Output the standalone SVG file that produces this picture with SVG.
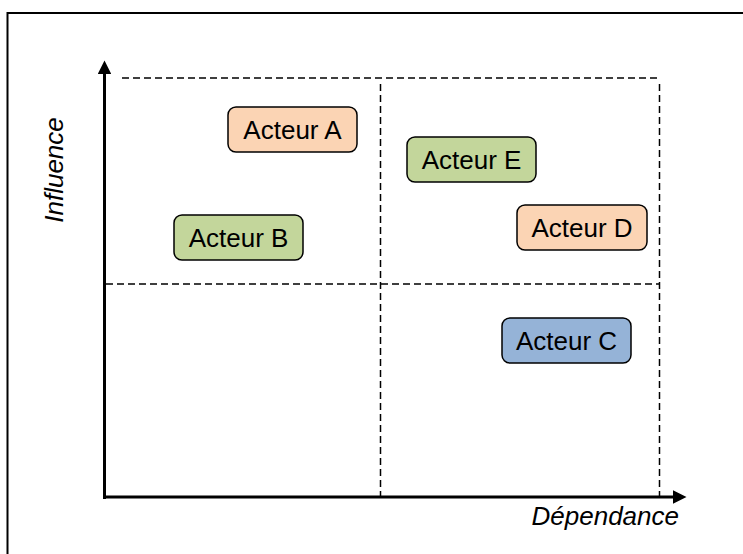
<svg xmlns="http://www.w3.org/2000/svg" width="743" height="554" viewBox="0 0 743 554">
<defs>
<style>
.frame{fill:none;stroke:#000;stroke-width:2}
.dash{fill:none;stroke:#000;stroke-width:1.5;stroke-dasharray:7 4}
.axis{fill:none;stroke:#000;stroke-width:3}
.box{stroke:#000;stroke-width:1.5}
.orange{fill:#FBD4B4}
.green{fill:#C3D69B}
.blue{fill:#95B3D7}
.lbl{font-family:"Liberation Sans",Arial,sans-serif;font-size:26px;text-anchor:middle;fill:#000}
.ax{font-family:"Liberation Sans",Arial,sans-serif;font-size:26px;font-style:italic;fill:#000}
</style>
<marker id="arr" viewBox="0 0 10 10" refX="0" refY="5" markerWidth="5" markerHeight="4.5" orient="auto" markerUnits="strokeWidth">
<path d="M0,0 L10,5 L0,10 Z" fill="#000"/>
</marker>
</defs>
<rect class="frame" x="7.5" y="13" width="800" height="600"/>
<g id="grid">
<line class="dash" x1="122" y1="78" x2="660" y2="78"/>
<line class="dash" x1="106" y1="284" x2="660" y2="284"/>
<line class="dash" x1="380.5" y1="84" x2="380.5" y2="496"/>
<line class="dash" x1="659.5" y1="84" x2="659.5" y2="496"/>
</g>
<g id="connectors">
<line class="axis" x1="104.5" y1="499" x2="104.5" y2="74" marker-end="url(#arr)"/>
<line class="axis" x1="103" y1="497" x2="673" y2="497" marker-end="url(#arr)"/>
</g>
<text class="ax" transform="translate(63,170) rotate(-90)" text-anchor="middle">Influence</text>
<text class="ax" x="679" y="525" text-anchor="end">Dépendance</text>
<g id="acteurA">
<rect class="box orange" x="228" y="107" width="129" height="45" rx="8"/>
<text class="lbl" x="292.5" y="138.5">Acteur A</text>
</g>
<g id="acteurB">
<rect class="box green" x="174" y="215" width="129" height="45" rx="8"/>
<text class="lbl" x="238.5" y="246.5">Acteur B</text>
</g>
<g id="acteurE">
<rect class="box green" x="407" y="137" width="129" height="45" rx="8"/>
<text class="lbl" x="471.5" y="168.5">Acteur E</text>
</g>
<g id="acteurD">
<rect class="box orange" x="517" y="205" width="130" height="45" rx="8"/>
<text class="lbl" x="582" y="236.5">Acteur D</text>
</g>
<g id="acteurC">
<rect class="box blue" x="502" y="318" width="129" height="45" rx="8"/>
<text class="lbl" x="566.5" y="349.5">Acteur C</text>
</g>
</svg>
